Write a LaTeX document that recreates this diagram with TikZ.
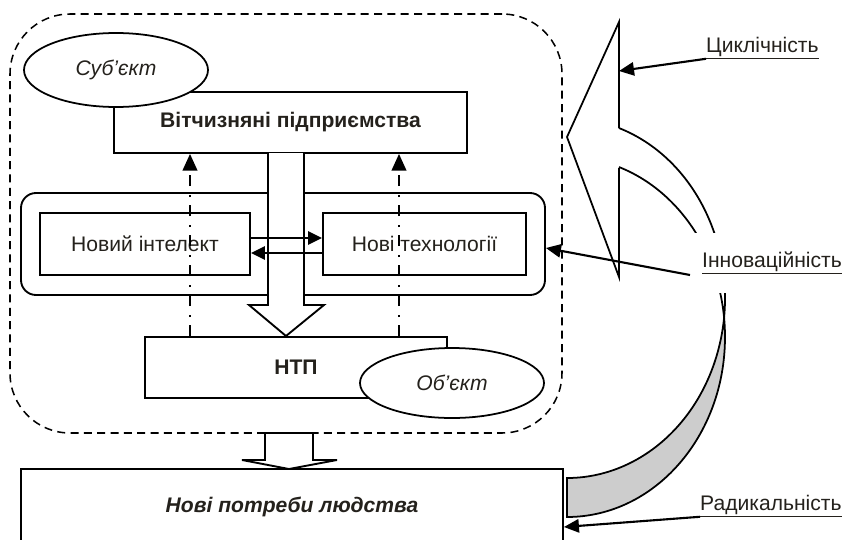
\documentclass[tikz,border=0pt]{standalone}
\usepackage{fontspec}
\setmainfont{Liberation Sans}
\usepackage{tikz}
\usetikzlibrary{arrows.meta, shapes.geometric}
\definecolor{ink}{RGB}{36,33,28}
\definecolor{bandgrey}{RGB}{205,205,205}
\newcommand{\labelsize}{\fontsize{18}{21.5}\selectfont}
\tikzset{
  plainbox/.style={draw, fill=white, line width=1.6pt, inner sep=0pt, text=ink, font=\labelsize},
  ovalbox/.style={ellipse, draw, fill=white, line width=1.5pt, inner sep=0pt, text=ink, font=\labelsize\itshape},
  tagtext/.style={inner sep=0pt, text=ink, font=\labelsize},
  flow/.style={line width=1.6pt, -{Triangle[length=4.2mm, width=4mm]}},
  pointer/.style={line width=1.8pt, -{Triangle[length=4.5mm, width=4mm]}},
  feedback/.style={line width=1.6pt, dash pattern=on 3.3mm off 2.4mm on 0.6mm off 2.7mm, -{Triangle[length=5mm, width=4.4mm]}},
  blockarrow/.style={draw, fill=white, line width=1.6pt},
}

\begin{document}
\begin{tikzpicture}
		[x=0.3mm, y=-0.3mm]
		\useasboundingbox (0,0) rectangle (843,540);
		% nodes %
		\node[draw, line width=1.3pt, dash pattern=on 2.4mm off 1.6mm, rounded corners=18mm, minimum width=165.6mm, minimum height=125.7mm] (zone) at (286,223.5) {};
		\node[plainbox, minimum width=105.9mm, minimum height=18.3mm, font=\labelsize\bfseries] (firms) at (290.5,122.5) {Вітчизняні підприємства};
		\node[ovalbox, minimum width=55.2mm, minimum height=22.2mm] (subj) at (116,70) {Суб’єкт};
		\node[draw, fill=white, line width=1.6pt, rounded corners=4.5mm, minimum width=157.2mm, minimum height=30.6mm] (ring) at (283,244) {};
		\node[plainbox, minimum width=63mm, minimum height=18.6mm] (intel) at (145,244) {Новий інтелект};
		\node[plainbox, minimum width=60.9mm, minimum height=18.6mm] (tech) at (424.5,244) {Нові технології};
		\node[plainbox, minimum width=90.6mm, minimum height=18.3mm, font=\labelsize\bfseries] (ntp) at (296,367.5) {НТП};
		\node[ovalbox, minimum width=55.2mm, minimum height=21mm] (obj) at (452,383) {Об’єкт};
		\node[plainbox, minimum width=162.6mm, minimum height=22.8mm, font=\labelsize\bfseries\itshape] (needs) at (292,507) {Нові потреби людства};
		\coordinate (leftrise) at (190,0);
		\coordinate (rightrise) at (399,0);

		% block arrows %
		\path[blockarrow] (268,153) -- (268,305) -- (249,305) -- (286,336) -- (324,305) -- (304,305) -- (304,153);
		\path[blockarrow] (265,433) -- (265,460) -- (242,460) -- (289,469) -- (337,460) -- (313,460) -- (313,433) -- cycle;

		% edges %
		\draw[flow] ([yshift=1.8mm]intel.east) -- ([yshift=1.8mm]tech.west);
		\draw[flow] ([yshift=-2.7mm]tech.west) -- ([yshift=-2.7mm]intel.east);
		\draw[feedback] (ntp.north -| leftrise) -- (firms.south -| leftrise);
		\draw[feedback] (ntp.north -| rightrise) -- (firms.south -| rightrise);

		% curved arrow %
		\fill[bandgrey] ([shift={(-6.2:47.4mm and 54mm)}]567,298) arc[start angle=-6.2, end angle=-90, x radius=47.4mm, y radius=54mm]
			-- ([shift={(-90:47.4mm and 54mm)}]567,337) arc[start angle=-90, end angle=6.2, x radius=47.4mm, y radius=54mm] -- cycle;
		\draw[line width=1.5pt] ([shift={(70.8:47.4mm and 54mm)}]567,298) arc[start angle=70.8, end angle=-90, x radius=47.4mm, y radius=54mm]
			-- ([shift={(-90:47.4mm and 54mm)}]567,337) arc[start angle=-90, end angle=70.8, x radius=47.4mm, y radius=54mm];
		\draw[line width=1.5pt] (619,128) -- (619,22) -- (567,137) -- (619,277) -- (619,168);
		\coordinate (cyctip) at (619,71);

		% labels %
		\node[tagtext, anchor=base west] (cyc) at (706,52) {\underline{Циклічність}};
		\node[tagtext, fill=white, anchor=west, inner xsep=3.6mm, minimum height=18mm] (innov) at (690,263) {\underline{Інноваційність}};
		\node[tagtext, anchor=base west] (rad) at (700,510) {\underline{Радикальність}};
		\draw[pointer] (cyc.south west) -- (cyctip);
		\draw[pointer] ([yshift=-3.6mm]innov.west) -- ([yshift=-1.2mm]ring.east);
		\draw[pointer] (rad.south west) -- ([yshift=-6mm]needs.east);
		\end{tikzpicture}
\end{document}
